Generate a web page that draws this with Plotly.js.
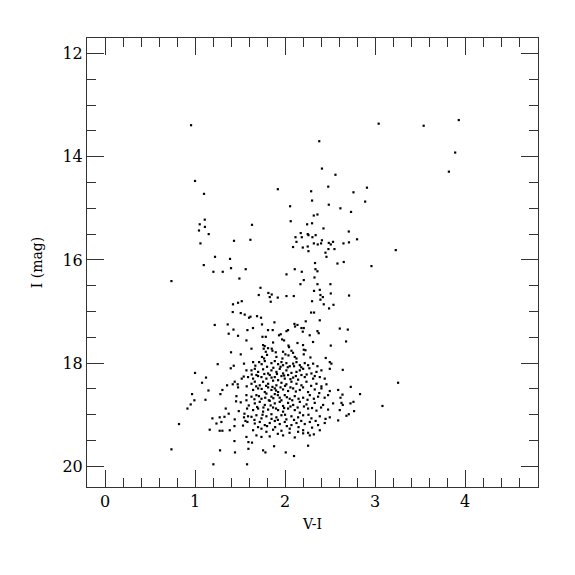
<!DOCTYPE html>
<html>
<head>
<meta charset="utf-8">
<script src="https://cdn.plot.ly/plotly-3.0.1.min.js"></script>
<style>html,body{margin:0;padding:0;background:#fff;}#chart{width:575px;height:575px;}</style>
</head>
<body>
<div id="chart"></div>
<script>
// Bright stars (top part)
const brightVI = [0.956,3.04,3.54,3.93,2.38,3.89,2.41,2.56,3.82,1.00,1.10,1.92,2.29,2.48,2.76,2.91,2.30,2.89];
const brightI  = [13.39,13.36,13.40,13.29,13.70,13.92,14.23,14.35,14.29,14.47,14.72,14.63,14.67,14.58,14.69,14.60,14.85,14.87];

// Blue bright group
const blueVI = [1.108,1.052,1.11,1.044,1.152,1.06,1.633,1.433,1.615,1.222,1.389,1.097,1.40,1.563,1.204,1.308,1.493,0.738];
const blueI  = [15.22,15.31,15.36,15.43,15.50,15.68,15.32,15.63,15.61,15.94,15.98,16.10,16.16,16.18,16.23,16.23,16.36,16.41];

// Red giant branch upper part
const rgbVI = [2.056,2.486,2.615,2.319,2.36,2.063,2.245,2.30,2.427,2.708,2.174,2.252,2.26,2.34,2.116,2.186,2.304,2.127,2.41,2.533,2.32,2.363,2.40,2.486,2.508,2.649,2.71,2.089,2.252,2.197,2.26,2.482,2.549,2.449,2.46,2.582,2.652,2.333,2.108,2.338,2.186,2.36,2.016,2.327,2.208,2.171,2.36,2.504,2.733,2.8,3.23,2.96];
const rgbI  = [14.96,14.93,15.00,15.14,15.12,15.25,15.31,15.29,15.39,15.45,15.48,15.50,15.52,15.52,15.56,15.56,15.56,15.65,15.62,15.65,15.68,15.70,15.68,15.67,15.70,15.68,15.66,15.75,15.74,15.76,15.83,15.79,15.79,15.86,15.94,16.07,16.04,16.06,16.18,16.18,16.23,16.22,16.28,16.34,16.39,16.47,16.47,16.47,15.07,15.60,15.81,16.12];

// Intermediate magnitudes
const midVI = [1.422,1.478,1.519,1.419,1.508,1.552,1.6,1.219,1.363,1.427,1.582,1.374,1.478,1.571,1.40,1.508,
1.727,1.708,1.815,1.852,1.83,1.841,1.919,2.016,2.097,2.322,2.386,2.393,2.42,2.508,2.711,2.30,2.393,2.43,2.538,2.489,2.289,2.322,1.616,1.689,1.733,2.386,1.882,1.744,1.644,1.811,1.863,2.104,2.111,2.138,2.182,2.208,2.23,2.197,2.033,2.016,2.36,2.374,2.274,2.608,2.697,1.952,1.933,1.749,1.786,1.989,1.967,1.867,2.038,2.044,2.138,2.2,2.208,2.311,2.508,1.627,1.756,1.774,1.763,1.811,1.852,1.86,1.897,1.978,2.004,2.071,2.089,1.786,1.8,1.744,1.767,1.904,1.971,2.038,2.108,2.127,2.208,2.227,2.282,2.452,2.678];
const midI  = [16.86,16.83,16.80,17.01,17.03,17.06,17.12,17.26,17.25,17.35,17.36,17.43,17.47,17.56,17.79,17.83,
16.54,16.68,16.64,16.67,16.72,16.81,16.73,16.70,16.70,16.60,16.58,16.68,16.72,16.65,16.69,16.80,16.77,16.86,16.87,16.94,17.02,17.02,17.10,17.09,17.12,17.17,17.21,17.25,17.32,17.36,17.36,17.24,17.29,17.26,17.32,17.32,17.19,17.39,17.36,17.38,17.38,17.42,17.46,17.33,17.35,17.44,17.46,17.49,17.49,17.56,17.54,17.60,17.66,17.69,17.61,17.65,17.74,17.59,17.66,17.72,17.65,17.67,17.72,17.71,17.72,17.76,17.79,17.78,17.83,17.76,17.80,17.78,17.84,17.88,17.91,17.88,17.91,17.85,17.88,17.91,17.83,17.75,17.89,17.90,17.58];

// Faint blue side
const faintBlueVI = [1.252,1.43,1.544,1.397,1.571,1.0,1.122,1.541,1.519,1.589,1.078,1.356,1.419,1.474,1.441,1.478,1.574,1.149,1.304,1.282,0.967,1.46,1.571,0.993,1.116,1.456,1.508,1.571,0.952,1.597,0.916,1.341,1.578,1.486,1.374,1.549,1.589,1.193,1.274,1.327,1.441,1.544,1.293,1.238,1.56,1.582,0.822,1.438,1.533,1.163,1.304,1.274,1.386,1.571,
1.438,1.593,1.593,0.738,1.278,1.444,1.204,1.578];
const faintBlueI  = [18.02,18.05,18.01,18.10,18.14,18.19,18.28,18.26,18.30,18.27,18.38,18.43,18.41,18.41,18.36,18.47,18.45,18.53,18.52,18.60,18.60,18.64,18.62,18.72,18.71,18.74,18.76,18.72,18.80,18.82,18.88,18.88,18.88,18.93,18.98,18.98,19.03,19.07,19.05,19.04,19.09,19.05,19.14,19.17,19.12,19.14,19.18,19.22,19.21,19.29,19.31,19.31,19.30,19.43,
19.51,19.53,19.66,19.67,19.69,19.73,19.96,19.96];

// Faint main clump
const clumpVI = [1.645,1.712,1.775,1.849,1.886,1.923,1.96,1.978,2.015,2.052,2.09,2.127,2.164,2.219,2.256,2.312,2.497,2.515,
1.627,1.664,1.701,1.756,1.812,1.849,1.904,1.941,1.978,2.015,2.071,2.127,2.164,2.201,2.293,2.349,2.404,2.497,
1.645,1.682,1.738,1.793,1.83,1.886,1.923,1.96,1.997,2.034,2.09,2.145,2.182,2.219,2.312,2.386,2.441,
1.627,1.664,1.719,1.756,1.812,1.867,1.904,1.96,2.015,2.071,2.127,2.182,2.238,2.349,2.404,2.46,
1.645,1.701,1.775,1.812,1.849,1.886,1.923,1.978,2.034,2.09,2.164,2.256,2.33,2.404,2.497,2.59,
1.627,1.682,1.738,1.793,1.849,1.886,1.941,1.997,2.052,2.108,2.201,2.275,2.367,2.478,
1.664,1.719,1.775,1.83,1.886,1.941,1.978,2.034,2.09,2.164,2.238,2.33,2.423,2.534,
1.645,1.701,1.756,1.812,1.867,1.923,1.978,2.034,2.108,2.164,2.256,2.349,2.478,2.608,
1.627,1.682,1.738,1.793,1.849,1.904,1.96,2.015,2.071,2.145,2.201,2.293,2.386,2.497,
1.664,1.719,1.775,1.83,1.886,1.941,1.997,2.071,2.127,2.219,2.275,2.367,2.441,2.59,
1.645,1.738,1.793,1.867,1.96,2.052,2.145,2.201,2.256,2.386,
1.682,1.738,1.83,1.978,2.108,2.201,2.275];
const clumpI  = [17.98,17.98,17.96,18.00,17.96,18.02,17.98,18.04,18.00,18.06,18.01,17.98,18.04,18.00,18.04,18.01,17.98,18.01,
18.14,18.11,18.17,18.12,18.20,18.14,18.17,18.11,18.20,18.14,18.19,18.17,18.14,18.11,18.20,18.17,18.14,18.11,
18.30,18.23,18.27,18.30,18.23,18.27,18.33,18.25,18.30,18.23,18.28,18.32,18.23,18.27,18.30,18.27,18.30,
18.40,18.36,18.43,18.36,18.40,18.34,18.43,18.38,18.41,18.36,18.40,18.43,18.36,18.40,18.45,18.41,
18.52,18.49,18.56,18.47,18.52,18.49,18.56,18.51,18.54,18.49,18.52,18.56,18.51,18.49,18.54,18.52,
18.65,18.62,18.69,18.59,18.65,18.60,18.67,18.62,18.69,18.64,18.67,18.62,18.65,18.62,
18.78,18.75,18.81,18.73,18.78,18.75,18.83,18.77,18.81,18.75,18.80,18.77,18.81,18.78,
18.91,18.88,18.94,18.90,18.86,18.91,18.94,18.88,18.91,18.96,18.88,18.92,18.90,18.91,
19.04,19.01,19.07,19.03,18.99,19.05,19.01,19.09,19.03,19.05,19.01,19.07,19.03,19.05,
19.17,19.14,19.20,19.16,19.12,19.18,19.14,19.20,19.16,19.18,19.14,19.20,19.16,19.11,
19.30,19.27,19.33,19.29,19.31,19.27,19.33,19.30,19.35,19.30,
19.40,19.43,19.42,19.40,19.44,19.36,19.40];

// Extra core stars
const coreVI = [1.67,1.74,1.80,1.87,1.95,2.03,2.10,2.18,2.27,2.36,
1.63,1.70,1.77,1.85,1.91,1.99,2.06,2.12,2.24,2.33,
1.68,1.74,1.79,1.86,1.90,1.95,2.00,2.06,2.12,2.20,2.29,2.38,
1.66,1.71,1.78,1.82,1.87,1.92,1.96,2.02,2.08,2.15,2.25,2.32,2.44,
1.69,1.76,1.84,1.90,1.99,2.06,2.14,2.21,2.30,2.40,
1.66,1.75,1.85,1.92,2.00,2.10,2.18,2.26,2.34,2.45,
1.70,1.80,1.89,2.02,2.15,2.30,1.92,2.05,2.32];
const coreI  = [18.05,18.02,18.07,18.09,18.07,18.08,18.06,18.08,18.10,18.06,
18.22,18.25,18.21,18.28,18.21,18.24,18.31,18.25,18.22,18.25,
18.45,18.50,18.44,18.46,18.53,18.47,18.44,18.47,18.55,18.47,18.44,18.58,
18.70,18.64,18.67,18.72,18.68,18.62,18.72,18.66,18.72,18.69,18.71,18.69,18.67,
18.85,18.86,18.82,18.88,18.87,18.84,18.86,18.84,18.87,18.86,
19.10,19.00,19.08,19.10,19.00,19.10,19.12,19.00,19.12,19.08,
19.24,19.22,19.24,19.22,19.24,19.25,19.37,19.35,19.38];

// Faint red side and faintest stars
const faintRedVI = [2.641,3.256,2.73,2.638,2.833,2.616,2.627,2.641,2.727,2.76,3.082,2.767,2.682,2.708,
1.633,1.756,1.782,1.878,2.008,2.1,2.256];
const faintRedI  = [18.13,18.38,18.46,18.61,18.60,18.67,18.77,18.81,18.78,18.75,18.83,18.93,19.02,18.99,
19.54,19.69,19.73,19.61,19.73,19.80,19.60];

const xs = [].concat(brightVI, blueVI, rgbVI, midVI, faintBlueVI, clumpVI, coreVI, faintRedVI);
const ys = [].concat(brightI, blueI, rgbI, midI, faintBlueI, clumpI, coreI, faintRedI);

const xTicks = [0,1,2,3,4];
const yTicks = [12,14,16,18,20];

const serif = "DejaVu Serif, Liberation Serif, serif";

const trace = {
  x: xs, y: ys, type: 'scatter', mode: 'markers',
  marker: {symbol: 'square', size: 2.2, color: '#000'},
  hoverinfo: 'skip'
};

const axisCommon = {
  showgrid: false, zeroline: false,
  showline: true, linecolor: '#333', linewidth: 1, mirror: 'allticks',
  ticks: 'inside', ticklen: 17, tickwidth: 1, tickcolor: '#333',
  tickfont: {family: serif, size: 16, color: '#000'}
};

const layout = {
  width: 575, height: 575,
  margin: {l: 87, r: 37, t: 38, b: 88},
  paper_bgcolor: '#fff', plot_bgcolor: '#fff',
  showlegend: false,
  xaxis: Object.assign({}, axisCommon, {
    range: [-0.2, 4.81],
    tickvals: xTicks, ticktext: xTicks.map(String),
    minor: {dtick: 0.2, tick0: 0, ticks: 'inside', ticklen: 9, tickcolor: '#333', tickwidth: 1},
    title: {text: 'V-I', font: {family: serif, size: 14, color: '#000'}, standoff: 8}
  }),
  yaxis: Object.assign({}, axisCommon, {
    range: [20.4, 11.7],
    tickvals: yTicks, ticktext: yTicks.map(String),
    minor: {dtick: 0.5, tick0: 0, ticks: 'inside', ticklen: 9, tickcolor: '#333', tickwidth: 1},
    title: {text: 'I (mag)', font: {family: serif, size: 14, color: '#000'}, standoff: 16}
  })
};

Plotly.newPlot('chart', [trace], layout, {staticPlot: true, displayModeBar: false});
</script>
</body>
</html>
